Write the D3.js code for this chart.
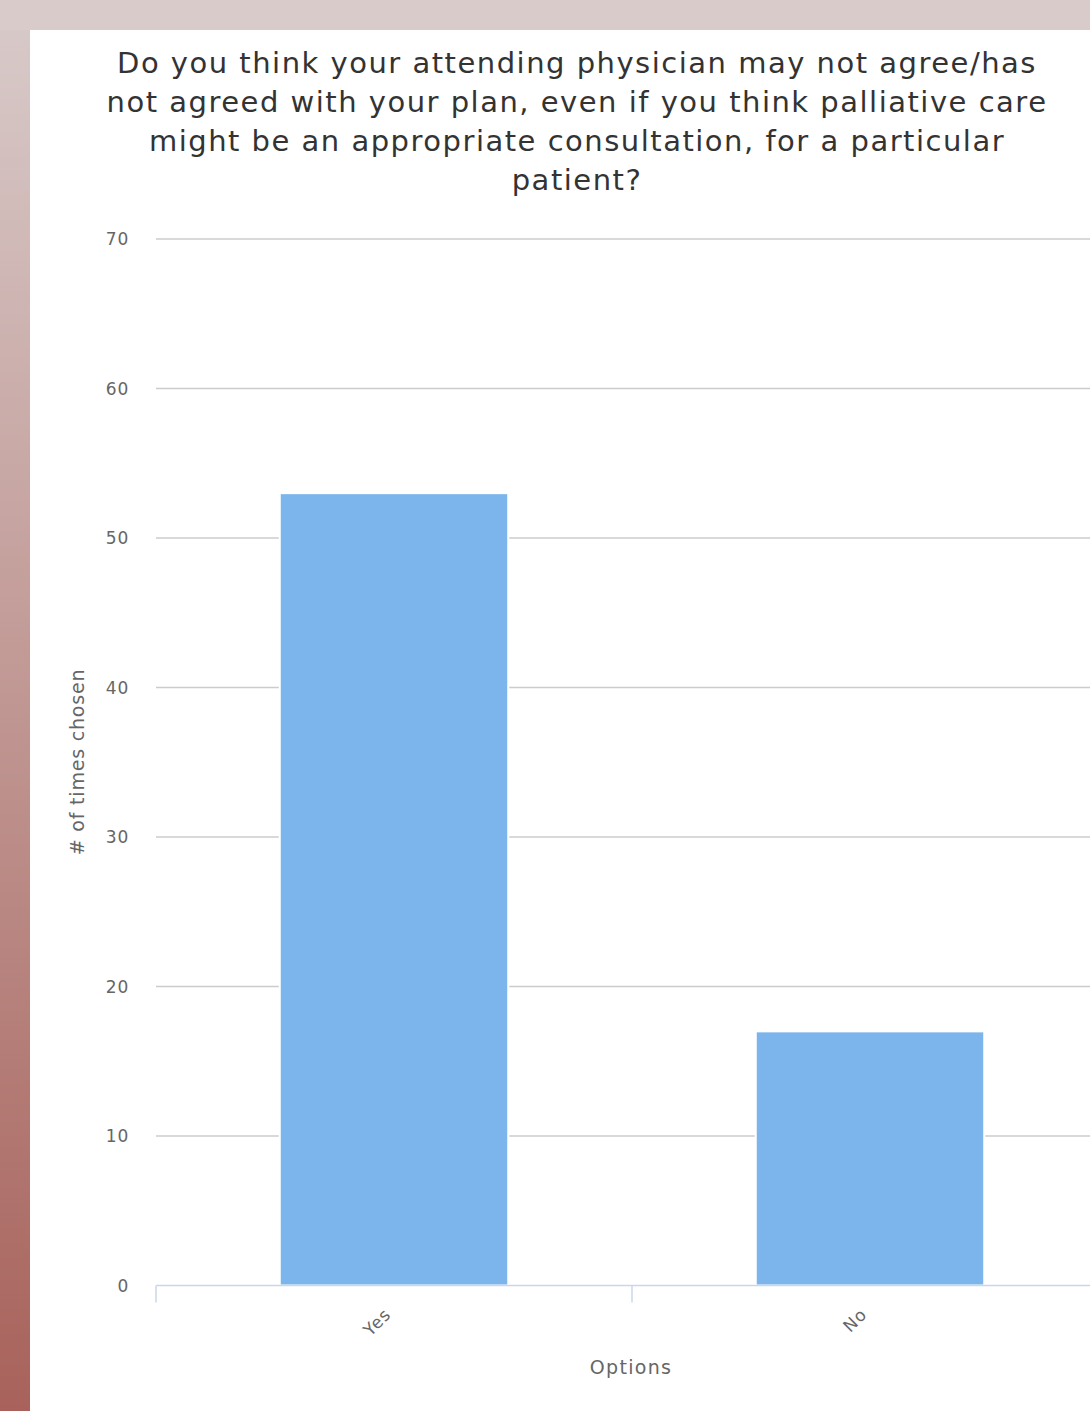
<!DOCTYPE html>
<html><head><meta charset="utf-8">
<script src="https://cdn.jsdelivr.net/npm/d3@7"></script>
<style>
html,body{margin:0;padding:0;}
body{width:1090px;height:1411px;overflow:hidden;background:#d8cbca;}
svg{display:block;font-family:"DejaVu Sans",sans-serif;}
</style></head><body>
<script>
const categories = ["Yes", "No"];
const values = [53, 17];
const yTicks = [0, 10, 20, 30, 40, 50, 60, 70];
const titleLines = [
  "Do you think your attending physician may not agree/has",
  "not agreed with your plan, even if you think palliative care",
  "might be an appropriate consultation, for a particular",
  "patient?"
];
const xTitle = "Options";
const yTitle = "# of times chosen";

const W = 1090, H = 1411;
const svg = d3.select("body").append("svg").attr("width", W).attr("height", H);
const defs = svg.append("defs");
const g = defs.append("linearGradient").attr("id","bg").attr("x1",0).attr("y1",0).attr("x2",0).attr("y2",1);
g.append("stop").attr("offset","0%").attr("stop-color","#d8cbca");
g.append("stop").attr("offset","100%").attr("stop-color","#a8625b");
svg.append("rect").attr("x",0).attr("y",0).attr("width",W).attr("height",H).attr("fill","url(#bg)");
svg.append("rect").attr("x",0).attr("y",0).attr("width",W).attr("height",30).attr("fill","#d8cbca");
svg.append("rect").attr("x",30).attr("y",30).attr("width",W-30).attr("height",H-30).attr("fill","#fff");

const plotLeft = 156, plotRight = 1108, plotTop = 239, plotBottom = 1285.5;
const x = d3.scaleBand().domain(categories).range([plotLeft, plotRight]).paddingInner(0).paddingOuter(0);
const y = d3.scaleLinear().domain([0, 70]).range([plotBottom, plotTop]);

// title
const title = svg.append("text").attr("text-anchor","middle").attr("fill","#333")
  .style("font-size","29px").style("letter-spacing","1.5px");
titleLines.forEach((l,i)=>{
  title.append("tspan").attr("x",577).attr("y",73+i*39).text(l);
});

// gridlines
svg.append("g").selectAll("line").data(yTicks.filter(t=>t>0)).join("line")
  .attr("x1",plotLeft).attr("x2",plotRight)
  .attr("y1",d=>y(d)).attr("y2",d=>y(d))
  .attr("stroke","#cccccc").attr("stroke-width",1.3);

// y tick labels
svg.append("g").selectAll("text").data(yTicks).join("text")
  .attr("x",129).attr("y",d=>y(d)+6)
  .attr("text-anchor","end").attr("fill","#666").style("font-size","17px")
  .style("letter-spacing","0.8px")
  .text(d=>d);

// bars
const bw = x.bandwidth()*0.6*0.8;
svg.append("g").selectAll("rect").data(categories).join("rect")
  .attr("x",(d)=>x(d)+x.bandwidth()/2-bw/2)
  .attr("y",(d,i)=>y(values[i]))
  .attr("width",bw)
  .attr("height",(d,i)=>y(0)-y(values[i]))
  .attr("fill","#7cb5ec").attr("stroke","#fff").attr("stroke-width",2);

// x axis line and ticks
svg.append("line").attr("x1",plotLeft).attr("x2",plotRight).attr("y1",plotBottom).attr("y2",plotBottom)
  .attr("stroke","#ccd6eb").attr("stroke-width",1.5);
const tickPos = categories.map(c=>x(c)).concat([x(categories[categories.length-1])+x.bandwidth()]);
svg.append("g").selectAll("line").data(tickPos).join("line")
  .attr("x1",d=>d).attr("x2",d=>d).attr("y1",plotBottom).attr("y2",plotBottom+17)
  .attr("stroke","#ccd6eb").attr("stroke-width",1.5);

// x labels
svg.append("g").selectAll("text").data(categories).join("text")
  .attr("transform",d=>`translate(${x(d)+x.bandwidth()/2-2},${plotBottom+30}) rotate(-45)`)
  .attr("text-anchor","end").attr("fill","#666").style("font-size","17px")
  .style("letter-spacing","1px")
  .text(d=>d);

// axis titles
svg.append("text").attr("x",631).attr("y",1374).attr("text-anchor","middle").attr("fill","#666")
  .style("font-size","19px").style("letter-spacing","1.3px").text(xTitle);
svg.append("text").attr("transform","translate(84,762) rotate(-90)").attr("text-anchor","middle").attr("fill","#666")
  .style("font-size","19px").style("letter-spacing","0.8px").text(yTitle);
</script>
</body></html>
